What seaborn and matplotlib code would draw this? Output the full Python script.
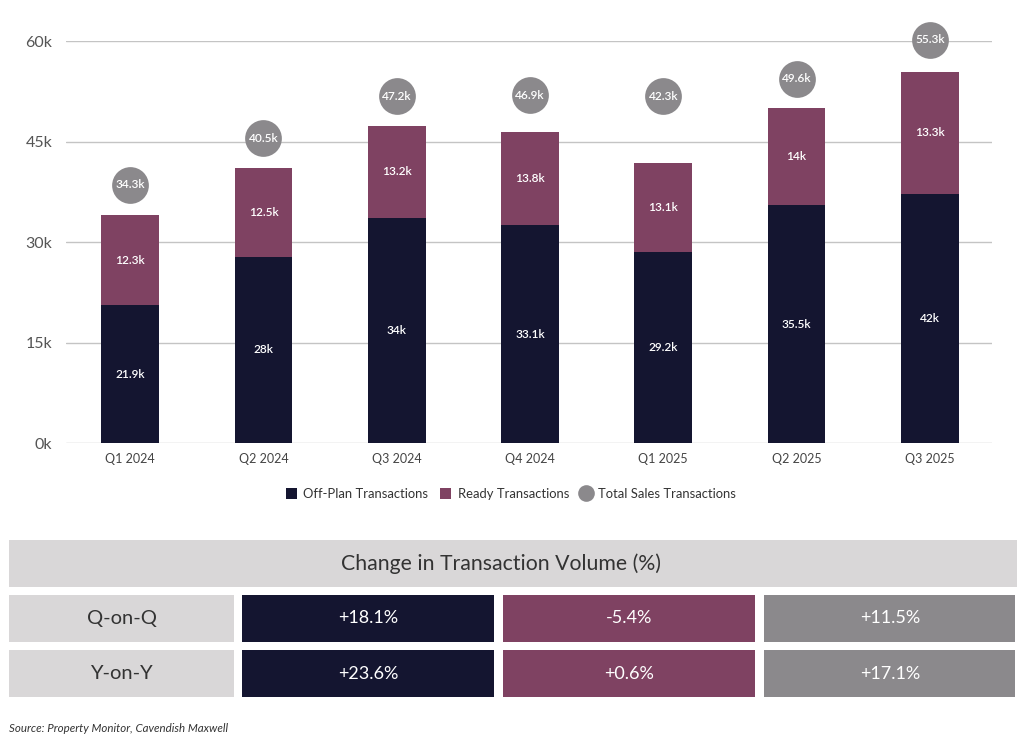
import matplotlib
matplotlib.use("Agg")
import matplotlib.pyplot as plt
from matplotlib.patches import Rectangle, Patch
from matplotlib.lines import Line2D
import seaborn as sns
import pandas as pd

# ---------------- data ----------------
quarters = ["Q1 2024", "Q2 2024", "Q3 2024", "Q4 2024", "Q1 2025", "Q2 2025", "Q3 2025"]
off_plan = [20.6, 27.85, 33.6, 32.6, 28.6, 35.5, 37.25]        # bar heights (k)
ready = [13.4, 13.25, 13.8, 13.8, 13.2, 14.5, 18.15]            # bar heights (k)
off_plan_labels = ["21.9k", "28k", "34k", "33.1k", "29.2k", "35.5k", "42k"]
ready_labels = ["12.3k", "12.5k", "13.2k", "13.8k", "13.1k", "14k", "13.3k"]
total_marker = [38.6, 45.5, 51.8, 51.9, 51.8, 54.4, 60.2]       # circle level (k)
total_labels = ["34.3k", "40.5k", "47.2k", "46.9k", "42.3k", "49.6k", "55.3k"]
y_ticks = [0, 15, 30, 45, 60]
y_tick_labels = ["0k", "15k", "30k", "45k", "60k"]

table_title = "Change in Transaction Volume (%)"
row_labels = ["Q-on-Q", "Y-on-Y"]
qoq_values = ["+18.1%", "-5.4%", "+11.5%"]
yoy_values = ["+23.6%", "+0.6%", "+17.1%"]
source_text = "Source: Property Monitor, Cavendish Maxwell"

NAVY = "#141530"
PURPLE = "#7f4262"
GREY = "#8b898c"
LIGHT = "#d9d7d8"
TEXT = "#333333"

sns.set_theme(style="white")
plt.rcParams["font.family"] = ["Lato", "DejaVu Sans"]

df = pd.DataFrame({
    "quarter": quarters,
    "off_plan": off_plan,
    "total": [a + b for a, b in zip(off_plan, ready)],
    "marker": total_marker,
})

fig = plt.figure(figsize=(10.24, 7.38), dpi=100)
ax = fig.add_axes([66 / 1024, (738 - 443.3) / 738, (992 - 66) / 1024, (443.3 - 41.2) / 738])

sns.barplot(data=df, x="quarter", y="total", color=PURPLE, width=0.433,
            saturation=1, ax=ax, zorder=3, linewidth=0)
sns.barplot(data=df, x="quarter", y="off_plan", color=NAVY, width=0.433,
            saturation=1, ax=ax, zorder=4, linewidth=0)
sns.scatterplot(data=df, x="quarter", y="marker", color=GREY, s=700,
                linewidth=0, ax=ax, zorder=5, clip_on=False, legend=False)

for i in range(len(quarters)):
    ax.text(i, off_plan[i] / 2, off_plan_labels[i], ha="center", va="center",
            color="white", fontsize=8.6, fontweight="semibold", zorder=6)
    ax.text(i, off_plan[i] + ready[i] / 2, ready_labels[i], ha="center", va="center",
            color="white", fontsize=8.6, fontweight="semibold", zorder=6)
    ax.text(i, total_marker[i], total_labels[i], ha="center", va="center",
            color="white", fontsize=8.6, fontweight="semibold", zorder=6, clip_on=False)

ax.set_xlim(-0.482, 6.467)
ax.set_ylim(0, 60)
ax.set_yticks(y_ticks)
ax.set_yticklabels(y_tick_labels)
ax.set_xlabel("")
ax.set_ylabel("")
ax.yaxis.grid(True, color="#c4c4c4", linewidth=1)
ax.set_axisbelow(True)
for s in ax.spines.values():
    s.set_visible(False)
ax.tick_params(axis="y", length=0, pad=10, labelsize=11.5, labelcolor="#555555")
ax.tick_params(axis="x", length=0, pad=7, labelsize=9, labelcolor="#444444")

handles = [
    Patch(facecolor=NAVY, edgecolor="none", label="Off-Plan Transactions"),
    Patch(facecolor=PURPLE, edgecolor="none", label="Ready Transactions"),
    Line2D([0], [0], marker="o", color="none", markerfacecolor=GREY,
           markeredgecolor="none", markersize=12, label="Total Sales Transactions"),
]
fig.legend(handles=handles, loc="center", bbox_to_anchor=(511 / 1024, 1 - 494 / 738),
           ncol=3, frameon=False, fontsize=9.4, handlelength=0.85, handleheight=0.85,
           handletextpad=0.5, columnspacing=0.9, labelcolor=TEXT)

# ---------------- table ----------------
tax = fig.add_axes([0, 0, 1, 1])
tax.set_xlim(0, 1024)
tax.set_ylim(738, 0)
tax.axis("off")

def cell(x0, y0, x1, y1, color):
    tax.add_patch(Rectangle((x0, y0), x1 - x0, y1 - y0, facecolor=color, edgecolor="none"))

cell(9.3, 540, 1017, 587.3, LIGHT)
tax.text(501, 564, table_title, ha="center", va="center",
         fontsize=15.3, color=TEXT)

cols = [(242.3, 494), (502.7, 755), (764.3, 1015.3)]
col_colors = [NAVY, PURPLE, GREY]
rows = [(595, 641.7), (650, 697.3)]
for r, (y0, y1) in enumerate(rows):
    cell(9.3, y0, 234.3, y1, LIGHT)
    tax.text((9.3 + 234.3) / 2, (y0 + y1) / 2, row_labels[r], ha="center", va="center",
             fontsize=14.5, color=TEXT)
    vals = qoq_values if r == 0 else yoy_values
    for c, (x0, x1) in enumerate(cols):
        cell(x0, y0, x1, y1, col_colors[c])
        tax.text((x0 + x1) / 2, (y0 + y1) / 2, vals[c], ha="center", va="center",
                 fontsize=13, color="white")

tax.text(9, 728, source_text, ha="left", va="center", fontsize=8.3,
         style="italic", color=TEXT)

fig.savefig("out.png", dpi=100)
